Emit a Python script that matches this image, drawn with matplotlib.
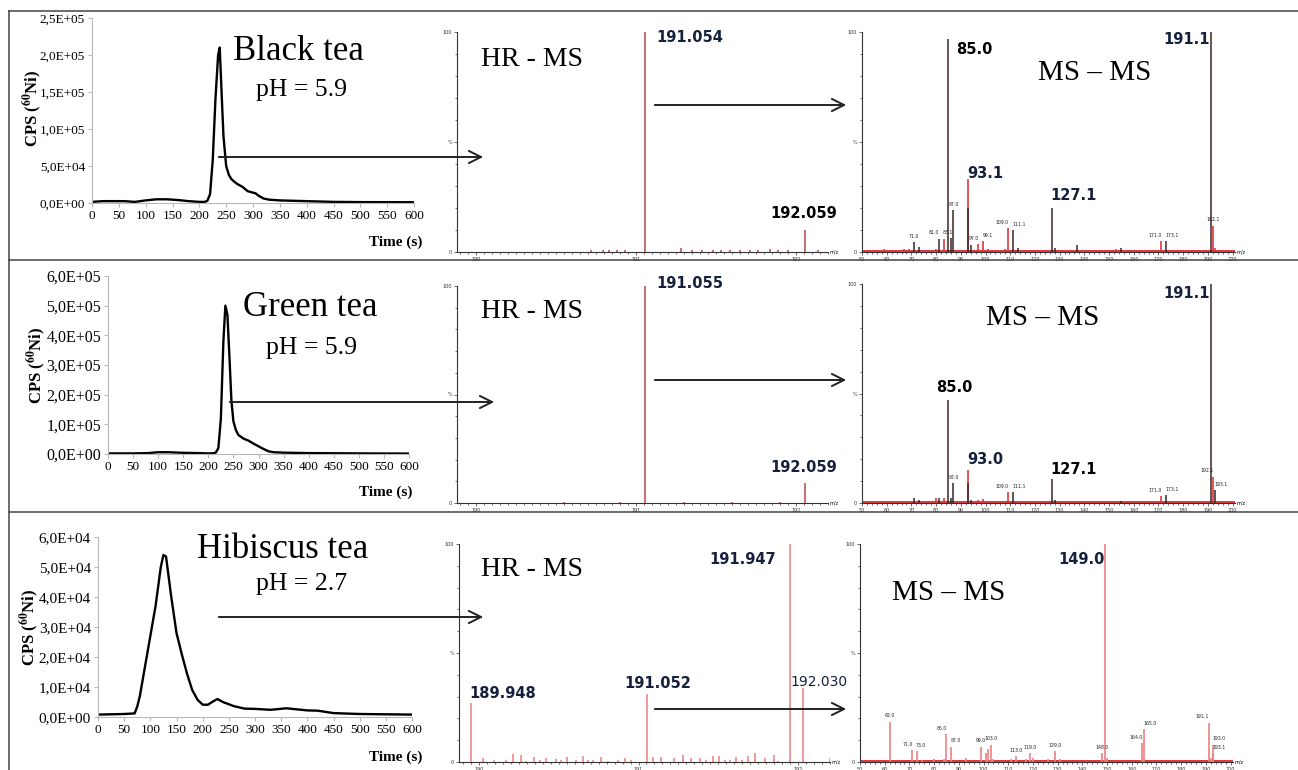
import matplotlib.pyplot as plt

plt.rcParams['mathtext.fontset'] = 'stix'
SERIF = 'Liberation Serif'
W, H = 1298, 770

# ---- chromatograms (time in s, CPS of 60Ni) ----
black_t = [0, 20, 40, 60, 80, 100, 120, 140, 160, 180, 200, 210, 215, 220, 225, 230, 235, 238,
           242, 245, 250, 255, 260, 270, 280, 290, 300, 305, 310, 320, 330, 350, 400, 450, 500, 600]
black_cps = [1500, 2500, 2500, 2500, 1500, 3500, 5000, 5000, 4000, 2500, 1500, 1500, 3000, 12000,
             58000, 140000, 200000, 210000, 140000, 90000, 50000, 38000, 32000, 26000, 22000, 16000,
             14000, 13000, 10000, 6000, 4500, 3500, 2500, 1500, 1200, 1000]

green_t = [0, 50, 80, 100, 120, 150, 180, 200, 210, 215, 220, 225, 230, 234, 238, 242, 246, 250,
           255, 260, 270, 280, 290, 300, 310, 320, 330, 350, 400, 500, 600]
green_cps = [2000, 2000, 3000, 6000, 6000, 4000, 3000, 2000, 2500, 5000, 20000, 120000, 380000,
             500000, 470000, 330000, 180000, 110000, 80000, 64000, 52000, 45000, 35000, 26000,
             17000, 9000, 6000, 4500, 3000, 2000, 1500]

hib_t = [0, 50, 70, 75, 80, 90, 100, 110, 120, 125, 130, 140, 150, 160, 170, 180, 190, 200, 210,
         220, 228, 240, 260, 280, 300, 330, 360, 400, 420, 450, 500, 600]
hib_cps = [800, 1000, 1200, 3500, 7000, 17000, 27000, 37000, 50000, 54000, 53500, 40000, 28000,
           21000, 14500, 9000, 5800, 4100, 4100, 5200, 6000, 4900, 3600, 2800, 2700, 2400, 2900,
           2200, 2100, 1300, 1000, 800]

time_ticks = list(range(0, 601, 50))
black_yticks = [0, 50000, 100000, 150000, 200000, 250000]
black_ylabels = ['0,0E+00', '5,0E+04', '1,0E+05', '1,5E+05', '2,0E+05', '2,5E+05']
green_yticks = [0, 100000, 200000, 300000, 400000, 500000, 600000]
green_ylabels = ['0,0E+00', '1,0E+05', '2,0E+05', '3,0E+05', '4,0E+05', '5,0E+05', '6,0E+05']
hib_yticks = [0, 10000, 20000, 30000, 40000, 50000, 60000]
hib_ylabels = ['0,0E+00', '1,0E+04', '2,0E+04', '3,0E+04', '4,0E+04', '5,0E+04', '6,0E+04']

# ---- HR-MS spectra (m/z, relative %) ----
hr1_mz = [190.72, 190.79, 190.83, 190.88, 190.93, 191.054, 191.28, 191.35, 191.41, 191.48,
          191.53, 191.59, 191.65, 191.71, 191.76, 191.84, 191.89, 191.95, 192.059, 192.14]
hr1_int = [0.8, 0.8, 1.0, 0.8, 1.0, 100, 2.0, 0.8, 1.0, 0.8, 1.0, 0.8, 1.0, 0.8, 1.0, 1.2, 1.0,
           1.0, 10, 1.0]
hr2_mz = [190.55, 190.9, 191.055, 191.3, 191.6, 191.9, 192.059]
hr2_int = [0.5, 0.5, 100, 0.6, 0.5, 0.6, 9]
hr3_mz = [189.948, 190.025, 190.092, 190.172, 190.213, 190.262, 190.297, 190.343, 190.381,
          190.423, 190.481, 190.517, 190.554, 190.607, 190.649, 190.684, 190.715, 190.762,
          190.810, 190.872, 190.914, 190.956, 191.052, 191.092, 191.144, 191.224, 191.276,
          191.326, 191.385, 191.421, 191.469, 191.506, 191.544, 191.573, 191.609, 191.646,
          191.688, 191.732, 191.793, 191.851, 191.877, 191.947, 192.030, 192.197]
hr3_int = [27, 1.8, 0.8, 1.0, 3.7, 3.0, 0.4, 2.3, 0.8, 1.7, 1.4, 0.8, 2.3, 1.0, 2.6, 1.0, 0.8,
           2.3, 0.4, 1.0, 1.7, 0.8, 31, 2.3, 2.3, 1.7, 3.4, 1.7, 1.8, 0.8, 2.6, 2.6, 0.8, 0.8,
           2.3, 0.8, 2.6, 4.0, 1.7, 3.4, 0.5, 100, 34, 2.0]

# ---- MS-MS spectra (m/z, relative %) ----
ms1_dark_mz = [71.0, 73.0, 81.0, 85.0, 86.0, 87.0, 93.1, 94.0, 111.1, 113.0, 127.1, 128.0,
               137.0, 155.0, 173.1, 191.1]
ms1_dark_int = [4.5, 2.5, 6, 97, 6.5, 19, 20, 3, 10, 2, 20, 2, 3, 2, 5, 100]
ms1_red_mz = [59.0, 67.0, 69.0, 80.0, 83.1, 93.1, 97.0, 99.1, 101.0, 108.0, 109.0, 153.0,
              171.0, 192.1, 193.0]
ms1_red_int = [1.2, 1.5, 1.5, 1.5, 6, 33, 3.5, 5, 1.5, 1.5, 11, 1.5, 5, 12, 2]
ms1_small = ['71.0', '81.0', '83.1', '87.0', '97.0', '99.1', '109.0', '111.1', '171.0',
             '173.1', '192.1']

ms2_dark_mz = [71.0, 73.0, 81.0, 85.0, 86.0, 87.0, 93.0, 94.0, 111.1, 127.1, 128.0, 155.0,
               173.1, 191.1, 193.1]
ms2_dark_int = [2.5, 1.5, 2.5, 47, 2.5, 9, 9, 1.5, 5, 11, 1.5, 1, 3.5, 100, 6]
ms2_red_mz = [80.0, 83.0, 93.0, 97.0, 99.0, 109.0, 171.0, 192.1]
ms2_red_int = [2.5, 2.5, 15, 1.5, 2, 5, 3, 12]
ms2_small = ['87.0', '109.0', '111.1', '171.0', '173.1', '192.1', '193.1']

ms3_mz = [62.0, 71.0, 73.0, 75.0, 80.0, 84.0, 85.0, 87.0, 93.0, 99.0, 101.0, 102.0, 103.0,
          104.0, 111.0, 113.0, 117.0, 119.0, 120.0, 126.0, 129.0, 131.0, 148.0, 149.0, 150.0,
          164.0, 165.0, 191.1, 192.0, 193.0, 193.1]
ms3_int = [18.5, 5.6, 5, 1, 1.5, 1.5, 12.8, 7, 2, 7, 4, 6, 8, 1.5, 1.5, 2.6, 1.5, 4, 2, 1.5,
           5, 1.5, 4, 100, 2, 8.7, 15, 18, 2, 8, 4]
ms3_small = ['62.0', '71.0', '73.0', '85.0', '87.0', '99.0', '103.0', '113.0', '119.0',
             '129.0', '148.0', '164.0', '165.0', '191.1', '193.0', '193.1']

NAVY = '#15203d'
DARK = '#3a2626'
RED = '#e0353d'
PINK = '#ee8080'
HRRED = '#b8474c'


def rect(l, t, r, b):
    return [l / W, 1 - b / H, (r - l) / W, (b - t) / H]


fig = plt.figure(figsize=(W / 100, H / 100), dpi=100)


def chrom(box, t, y, yticks, ylabels, ysize):
    ax = fig.add_axes(rect(*box))
    ax.plot(t, y, color='black', lw=1.7)
    ax.set_xlim(0, 600)
    ax.set_ylim(0, yticks[-1])
    ax.set_xticks(time_ticks)
    ax.set_yticks(yticks)
    ax.set_yticklabels(ylabels)
    for s in ['top', 'right']:
        ax.spines[s].set_visible(False)
    for s in ['left', 'bottom']:
        ax.spines[s].set_color('#b8b8b8')
    ax.tick_params(length=3, color='#b8b8b8', labelsize=9.5, pad=2)
    ax.tick_params(axis='y', labelsize=ysize)
    for lab in ax.get_xticklabels() + ax.get_yticklabels():
        lab.set_fontfamily(SERIF)
    ax.patch.set_alpha(0)
    return ax


def spectrum(box, xlim, major, minor):
    ax = fig.add_axes(rect(*box))
    ax.set_xlim(*xlim)
    ax.set_ylim(0, 100)
    ax.set_xticks(major)
    ax.set_xticks(minor, minor=True)
    ax.set_yticks([0, 50, 100])
    ax.set_yticklabels(['0', '%', '100'])
    ax.set_yticks(range(0, 101, 10), minor=True)
    for s in ['top', 'right']:
        ax.spines[s].set_visible(False)
    for s in ['left', 'bottom']:
        ax.spines[s].set_color('#333333')
        ax.spines[s].set_linewidth(0.8)
    ax.tick_params(which='major', length=2.5, width=0.5, labelsize=3.5, pad=1, colors='#333333')
    ax.tick_params(which='minor', length=1.5, width=0.4)
    ax.text(1.005, 0, 'm/z', transform=ax.transAxes, fontsize=3.5, va='center')
    ax.patch.set_alpha(0)
    return ax


def small_labels(ax, labels, mzs, ints):
    vals = [float(lab) for lab in labels]
    for k, lab in enumerate(labels):
        v = vals[k]
        h = max(i for m, i in zip(mzs, ints) if abs(m - v) < 0.05)
        near_next = k + 1 < len(vals) and vals[k + 1] - v < 3.5
        near_prev = k > 0 and v - vals[k - 1] < 3.5
        if near_prev:
            x, ha = v - 0.3, 'left'
        elif near_next:
            x, ha = v + 0.3, 'right'
        else:
            x, ha = v, 'center'
        ax.text(x, h + 1.5, lab, fontsize=3.3, ha=ha, va='bottom', color='#222222')


# chromatograms
chrom((92, 18, 414, 203), black_t, black_cps, black_yticks, black_ylabels, 9.5)
chrom((108, 276, 409, 454), green_t, green_cps, green_yticks, green_ylabels, 11.5)
chrom((98, 537, 412, 717), hib_t, hib_cps, hib_yticks, hib_ylabels, 11)

# HR-MS
hr_major = [190, 191, 192]
hr_minor = [190 + 0.05 * i for i in range(-2, 45)]
a = spectrum((457, 32, 828, 252), (189.88, 192.19), hr_major, hr_minor)
a.vlines(hr1_mz, 0, hr1_int, color=HRRED, lw=1.1)
a = spectrum((457, 286, 828, 503), (189.88, 192.19), hr_major, hr_minor)
a.vlines(hr2_mz, 0, hr2_int, color=HRRED, lw=1.1)
a = spectrum((459, 544, 830, 762), (189.875, 192.2), hr_major, hr_minor)
a.vlines(hr3_mz, 0, hr3_int, color=PINK, lw=1.1)

# MS-MS
ms_major = list(range(50, 201, 10))
ms_minor = list(range(50, 201, 2))
a = spectrum((862, 32, 1235, 252), (50, 201), ms_major, ms_minor)
a.axhline(0.5, color=RED, lw=1.4)
a.vlines(ms1_red_mz, 0, ms1_red_int, color=RED, lw=1.2)
a.vlines(ms1_dark_mz, 0, ms1_dark_int, color=DARK, lw=1.1)
small_labels(a, ms1_small, ms1_dark_mz + ms1_red_mz, ms1_dark_int + ms1_red_int)

a = spectrum((862, 284, 1235, 503), (50, 201), ms_major, ms_minor)
a.axhline(0.5, color=RED, lw=1.4)
a.vlines(ms2_red_mz, 0, ms2_red_int, color=RED, lw=1.2)
a.vlines(ms2_dark_mz, 0, ms2_dark_int, color=DARK, lw=1.1)
small_labels(a, ms2_small, ms2_dark_mz + ms2_red_mz, ms2_dark_int + ms2_red_int)

a = spectrum((860, 544, 1233, 762), (50, 201), ms_major, ms_minor)
a.axhline(0.5, color=RED, lw=1.4)
a.vlines(ms3_mz, 0, ms3_int, color=PINK, lw=1.2)
small_labels(a, ms3_small, ms3_mz, ms3_int)

# overlay in pixel coordinates: frame, titles, labels, arrows
ov = fig.add_axes([0, 0, 1, 1], zorder=10)
ov.set_xlim(0, W)
ov.set_ylim(H, 0)
ov.axis('off')
ov.patch.set_alpha(0)

fc = '#444444'
ov.plot([9, W], [11, 11], color=fc, lw=1.1)
ov.plot([9, 9], [11, H], color=fc, lw=1.1)
ov.plot([9, W], [260, 260], color=fc, lw=1.1)
ov.plot([9, W], [512, 512], color=fc, lw=1.1)

serif = dict(family=SERIF, color='black', ha='center', va='center')
ov.text(298, 52, 'Black tea', fontsize=25, **serif)
ov.text(301, 90, 'pH = 5.9', fontsize=18.5, **serif)
ov.text(310, 307, 'Green tea', fontsize=25, **serif)
ov.text(312, 348, 'pH = 5.9', fontsize=18.5, **serif)
ov.text(283, 550, 'Hibiscus tea', fontsize=25, **serif)
ov.text(302, 584, 'pH = 2.7', fontsize=18.5, **serif)

ov.text(532, 59, 'HR - MS', fontsize=20, **serif)
ov.text(532, 312, 'HR - MS', fontsize=20, **serif)
ov.text(532, 570, 'HR - MS', fontsize=20, **serif)
ov.text(1095, 73, 'MS – MS', fontsize=21, **serif)
ov.text(1043, 318, 'MS – MS', fontsize=21, **serif)
ov.text(949, 593, 'MS – MS', fontsize=21, **serif)

ylab = r'CPS ($^{\mathbf{60}}$Ni)'
ov.text(32, 108, ylab, fontsize=12, rotation=90, weight='bold', **serif)
ov.text(36, 365, ylab, fontsize=12, rotation=90, weight='bold', **serif)
ov.text(29, 627, ylab, fontsize=12, rotation=90, weight='bold', **serif)
tl = dict(family=SERIF, fontsize=11, weight='bold', ha='right', va='center')
ov.text(422, 242, 'Time (s)', **tl)
ov.text(412, 492, 'Time (s)', **tl)
ov.text(422, 757, 'Time (s)', **tl)

pk = dict(family='DejaVu Sans', fontsize=10.5, weight='bold', va='center')
ov.text(656, 38, '191.054', color=NAVY, ha='left', **pk)
ov.text(770, 214, '192.059', color='black', ha='left', **pk)
ov.text(656, 284, '191.055', color=NAVY, ha='left', **pk)
ov.text(770, 467, '192.059', color=NAVY, ha='left', **pk)
ov.text(469, 694, '189.948', color=NAVY, ha='left', **pk)
ov.text(624, 684, '191.052', color=NAVY, ha='left', **pk)
ov.text(709, 560, '191.947', color=NAVY, ha='left', **pk)
ov.text(790, 682, '192.030', color=NAVY, ha='left', family='DejaVu Sans', fontsize=10,
        va='center')

ov.text(956, 49, '85.0', color='black', ha='left', **pk)
ov.text(967, 173, '93.1', color=NAVY, ha='left', **pk)
ov.text(1050, 195, '127.1', color=NAVY, ha='left', **pk)
ov.text(1210, 39, '191.1', color=NAVY, ha='right', **pk)
ov.text(1210, 294, '191.1', color=NAVY, ha='right', **pk)
ov.text(936, 388, '85.0', color='black', ha='left', **pk)
ov.text(967, 460, '93.0', color=NAVY, ha='left', **pk)
ov.text(1050, 470, '127.1', color='black', ha='left', **pk)
ov.text(1105, 560, '149.0', color=NAVY, ha='right', **pk)

arrow = dict(arrowstyle='->', lw=1.4, color='#222222', mutation_scale=22)
for (x0, x1, y) in [(216, 486, 157), (652, 849, 105),
                    (227, 497, 402), (652, 849, 380),
                    (216, 486, 617), (652, 849, 709)]:
    ov.annotate('', xy=(x1, y), xytext=(x0, y), arrowprops=arrow)

fig.savefig('out.png', dpi=100)
